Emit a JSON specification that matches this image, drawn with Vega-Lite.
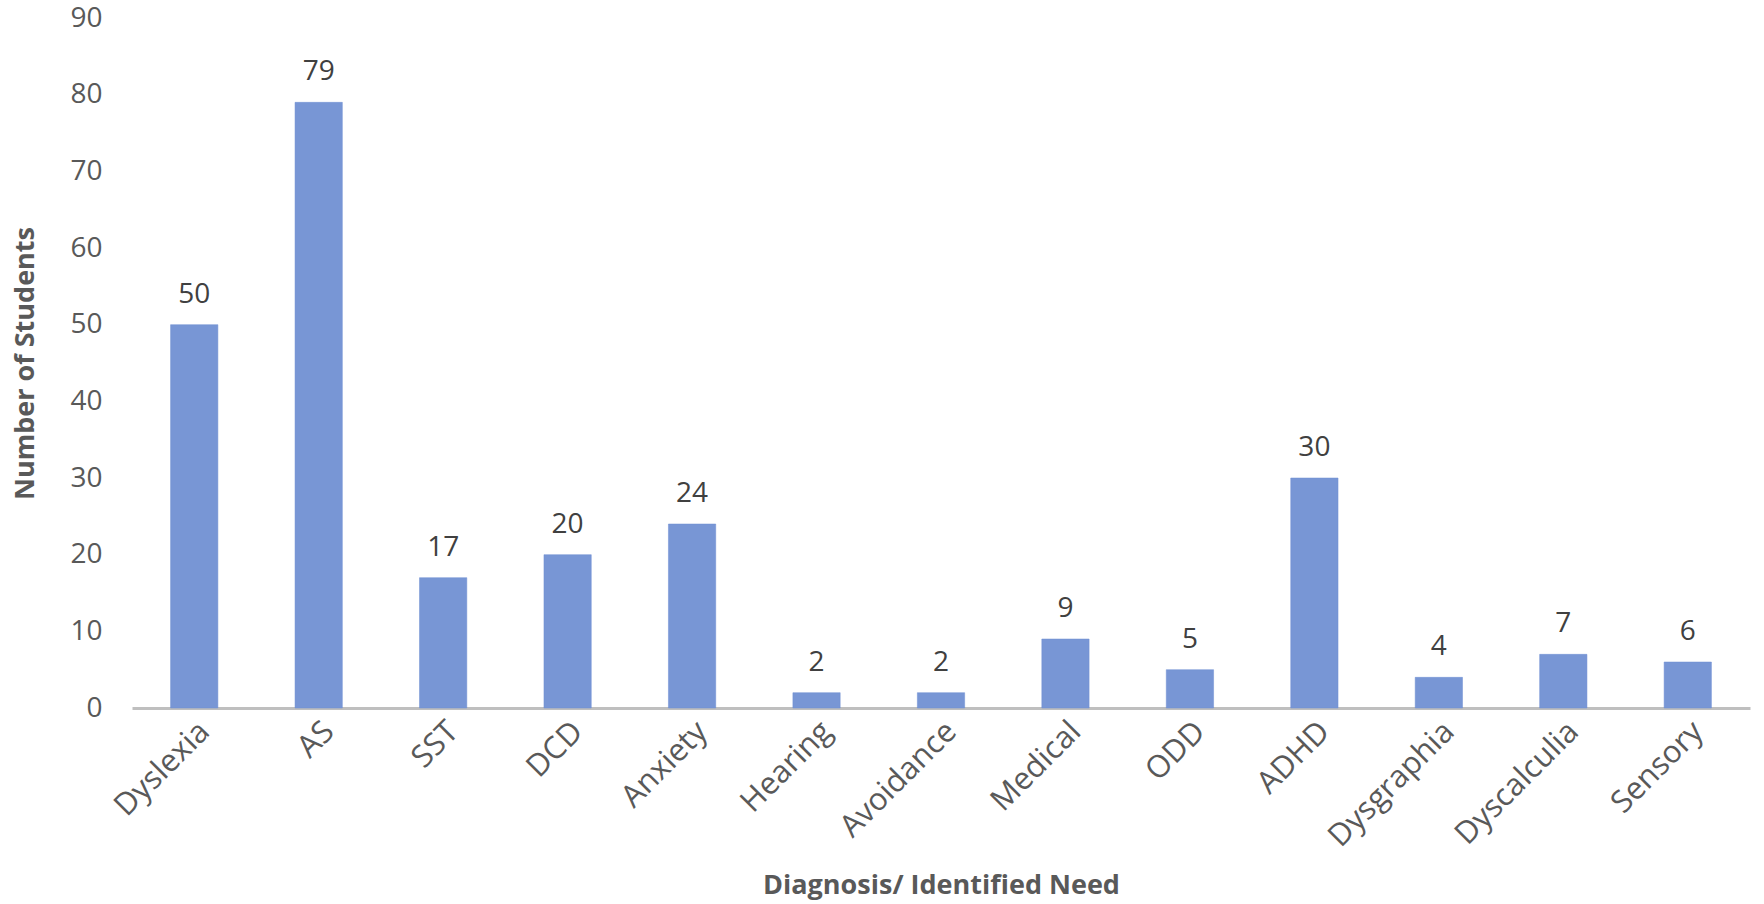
{
  "$schema": "https://vega.github.io/schema/vega-lite/v6.json",
  "width": 1618,
  "height": 690,
  "autosize": {"type": "none"},
  "padding": {"left": 132, "top": 18, "right": 14, "bottom": 196},
  "background": "white",
  "config": {
    "view": {"stroke": null},
    "font": "Open Sans"
  },
  "data": {
    "values": [
      {"need": "Dyslexia", "students": 50},
      {"need": "AS", "students": 79},
      {"need": "SST", "students": 17},
      {"need": "DCD", "students": 20},
      {"need": "Anxiety", "students": 24},
      {"need": "Hearing", "students": 2},
      {"need": "Avoidance", "students": 2},
      {"need": "Medical", "students": 9},
      {"need": "ODD", "students": 5},
      {"need": "ADHD", "students": 30},
      {"need": "Dysgraphia", "students": 4},
      {"need": "Dyscalculia", "students": 7},
      {"need": "Sensory", "students": 6}
    ]
  },
  "encoding": {
    "x": {
      "field": "need",
      "type": "nominal",
      "sort": null,
      "scale": {"paddingInner": 0.62, "paddingOuter": 0.31},
      "axis": {
        "title": "Diagnosis/ Identified Need",
        "titleFont": "Open Sans",
        "titleFontSize": 27,
        "titleFontWeight": "bold",
        "titleColor": "#595959",
        "titlePadding": 20,
        "labelAngle": -45,
        "labelFontSize": 31,
        "labelColor": "#595959",
        "labelPadding": 8,
        "ticks": false,
        "domainColor": "#BFBFBF",
        "domainWidth": 3,
        "grid": false
      }
    },
    "y": {
      "field": "students",
      "type": "quantitative",
      "scale": {"domain": [0, 90]},
      "axis": {
        "title": "Number of Students",
        "titleFont": "Open Sans",
        "titleFontSize": 27,
        "titleFontWeight": "bold",
        "titleColor": "#595959",
        "titlePadding": 30,
        "values": [0, 10, 20, 30, 40, 50, 60, 70, 80, 90],
        "labelFontSize": 28,
        "labelColor": "#595959",
        "labelPadding": 30,
        "ticks": false,
        "domain": false,
        "grid": false
      }
    }
  },
  "layer": [
    {
      "mark": {"type": "bar", "color": "#7896D5", "stroke": "#6F8FD2", "strokeWidth": 0.5}
    },
    {
      "mark": {"type": "text", "dy": -30, "fontSize": 28, "color": "#404040", "font": "Open Sans"},
      "encoding": {"text": {"field": "students", "type": "quantitative"}}
    }
  ]
}
